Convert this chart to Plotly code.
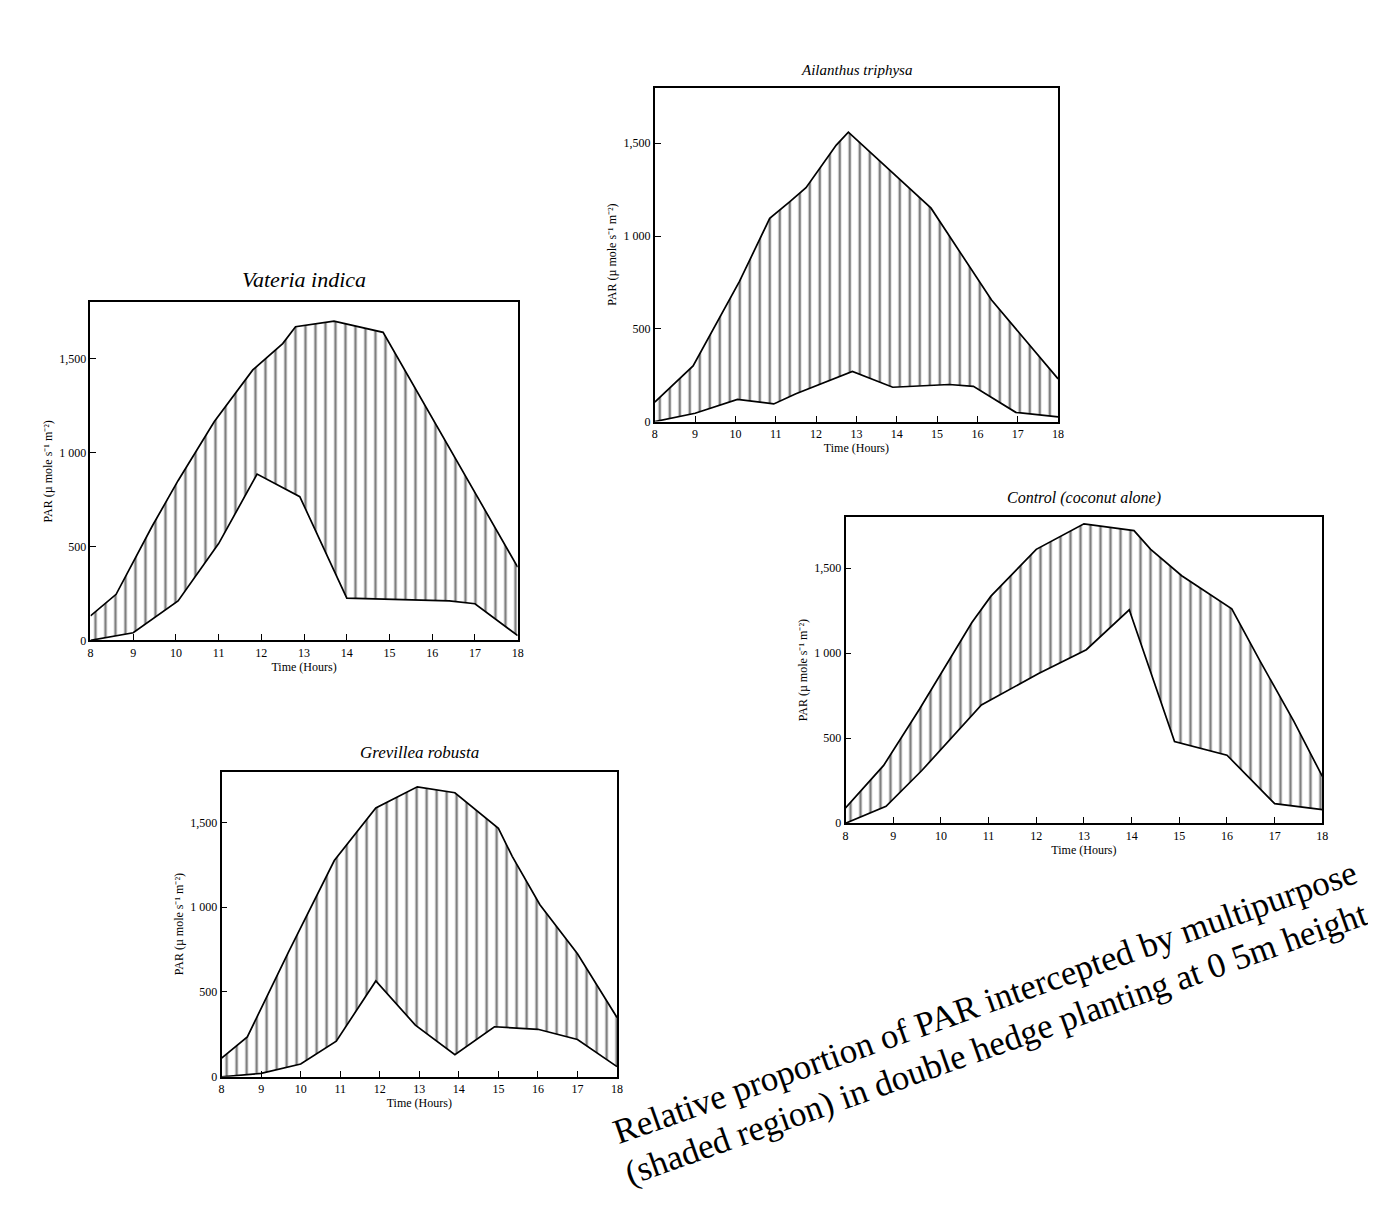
import plotly.graph_objects as go

# ---------------- data ----------------
hours = [8, 9, 10, 11, 12, 13, 14, 15, 16, 17, 18]
hour_labels = ["8", "9", "10", "11", "12", "13", "14", "15", "16", "17", "18"]
par_ticks = [0, 500, 1000, 1500]
par_labels = ["0", "500", "1 000", "1,500"]

# Vateria indica
vat_up_x = [8, 8.6, 9.45, 10.05, 10.9, 11.8, 12.5, 12.8, 13.7, 14.85, 18]
vat_up_y = [130, 245, 610, 850, 1165, 1440, 1580, 1670, 1700, 1640, 390]
vat_lo_x = [8, 9, 10.05, 11, 11.9, 12.9, 14, 16.4, 17, 18]
vat_lo_y = [0, 40, 210, 515, 885, 765, 225, 210, 195, 25]

# Ailanthus triphysa
ail_up_x = [8, 8.95, 10.1, 10.85, 11.35, 11.75, 12.5, 12.8, 14.85, 16.35, 18]
ail_up_y = [105, 300, 755, 1095, 1185, 1260, 1490, 1560, 1150, 655, 230]
ail_lo_x = [8, 9, 10.05, 10.95, 11.5, 12.9, 13.9, 15.3, 15.9, 16.95, 18]
ail_lo_y = [0, 45, 120, 95, 150, 270, 185, 200, 190, 50, 25]

# Grevillea robusta
gre_up_x = [8, 8.65, 9.7, 10.85, 11.9, 12.95, 13.9, 15.0, 15.35, 16.05, 17.0, 18]
gre_up_y = [110, 235, 740, 1275, 1585, 1710, 1675, 1465, 1300, 1015, 725, 350]
gre_lo_x = [8, 9, 10, 10.9, 11.9, 12.9, 13.9, 14.9, 16.0, 17.0, 18]
gre_lo_y = [0, 20, 75, 210, 565, 305, 130, 295, 280, 220, 60]

# Control (coconut alone)
con_up_x = [8, 8.8, 9.55, 10.65, 11.05, 12.0, 13.0, 14.05, 14.4, 15.05, 16.1, 16.7, 17.4, 18]
con_up_y = [90, 340, 670, 1180, 1335, 1610, 1760, 1720, 1610, 1455, 1260, 950, 600, 275]
con_lo_x = [8, 8.85, 9.6, 10.85, 12.05, 13.05, 13.95, 14.9, 16.0, 17.0, 18]
con_lo_y = [0, 100, 310, 695, 880, 1020, 1255, 480, 400, 115, 80]

titles = ["Vateria indica", "Ailanthus triphysa", "Grevillea robusta", "Control (coconut alone)"]
y_title = "PAR (µ mole s⁻¹ m⁻²)"
x_title = "Time (Hours)"
caption1 = "Relative proportion of PAR intercepted by multipurpose"
caption2 = "(shaded region) in double hedge planting at 0 5m height"

# ---------------- layout geometry (pixels of a 1376 x 1210 page) ----------------
W, H = 1376, 1210
panels = [
    # (x0, x1, y_top, y_bottom), title font size
    ((80, 510, 296, 636), 22),
    ((648, 1054, 80, 416), 15),
    ((212, 610, 768, 1075), 17),
    ((840, 1320, 512, 820), 16),
]
series = [
    (vat_up_x, vat_up_y, vat_lo_x, vat_lo_y),
    (ail_up_x, ail_up_y, ail_lo_x, ail_lo_y),
    (gre_up_x, gre_up_y, gre_lo_x, gre_lo_y),
    (con_up_x, con_up_y, con_lo_x, con_lo_y),
]

serif = "Liberation Serif"
fig = go.Figure()
layout = dict(
    width=W, height=H, autosize=False,
    margin=dict(l=0, r=0, t=0, b=0),
    paper_bgcolor="white", plot_bgcolor="white",
    showlegend=False,
    annotations=[],
)

for i, (((x0, x1, y0, y1), tsize), (ux, uy, lx, ly)) in enumerate(zip(panels, series)):
    n = "" if i == 0 else str(i + 1)
    xa, ya = "x" + n, "y" + n
    fig.add_trace(go.Scatter(x=lx, y=ly, mode="lines", xaxis=xa, yaxis=ya,
                             line=dict(color="black", width=1.7), hoverinfo="skip"))
    fig.add_trace(go.Scatter(x=ux, y=uy, mode="lines", xaxis=xa, yaxis=ya,
                             fill="tonexty", fillcolor="white",
                             fillpattern=dict(shape="|", size=10, solidity=0.25,
                                              fgcolor="black", bgcolor="white"),
                             line=dict(color="black", width=1.7), hoverinfo="skip"))
    axis_common = dict(showline=True, mirror=True, linecolor="black", linewidth=1.7,
                       showgrid=False, zeroline=False, ticks="inside", ticklen=6,
                       tickcolor="black", tickwidth=1.4,
                       tickfont=dict(family=serif, size=12, color="black"))
    layout["xaxis" + n] = dict(axis_common, domain=[x0 / W, x1 / W], anchor=ya,
                               range=[8, 18], tickvals=hours, ticktext=hour_labels,
                               title=dict(text=x_title, standoff=4,
                                          font=dict(family=serif, size=12, color="black")))
    layout["yaxis" + n] = dict(axis_common, domain=[1 - y1 / H, 1 - y0 / H], anchor=xa,
                               range=[0, 1800], tickvals=par_ticks, ticktext=par_labels,
                               title=dict(text=y_title, standoff=4,
                                          font=dict(family=serif, size=12, color="black")))
    layout["annotations"].append(dict(
        text="<i>" + titles[i] + "</i>", xref="paper", yref="paper",
        x=(x0 + x1) / 2 / W, y=1 - (y0 - 8) / H, xanchor="center", yanchor="bottom",
        showarrow=False, font=dict(family=serif, size=tsize, color="black")))

for txt, (cx, cy) in [(caption1, (980, 1000)), (caption2, (992, 1042))]:
    layout["annotations"].append(dict(
        text=txt, xref="paper", yref="paper", x=cx / W, y=1 - cy / H,
        xanchor="center", yanchor="middle", textangle=-19.5, showarrow=False,
        font=dict(family=serif, size=35, color="black")))

fig.update_layout(**layout)
fig.write_html("out.html")
